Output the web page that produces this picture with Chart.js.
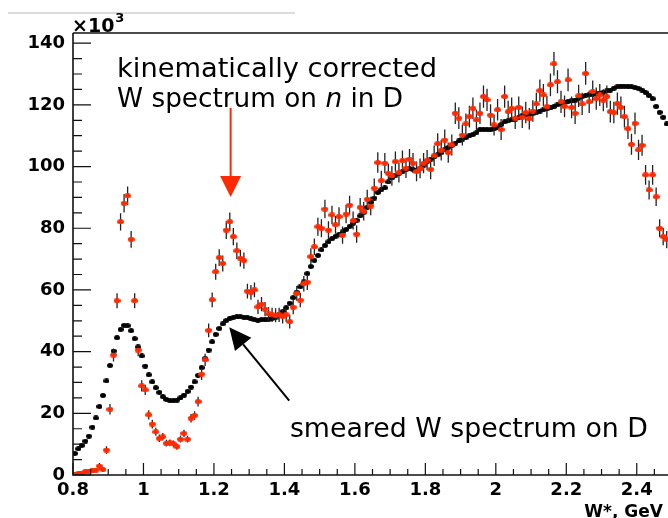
<!DOCTYPE html>
<html>
<head>
<meta charset="utf-8">
<script src="https://cdn.jsdelivr.net/npm/chart.js@4.4.1/dist/chart.umd.min.js"></script>
<style>
  html, body { margin: 0; padding: 0; background: #fff; overflow: hidden; }
  #wrap { width: 668px; height: 518px; overflow: hidden; }
  canvas { display: block; }
</style>
</head>
<body>
<div id="wrap"><canvas id="chart-box" width="680" height="518"></canvas></div>
<script>
// W* bins: 0.01 GeV wide, first bin centred at 0.805 GeV
const wStart = 0.805;
const wStep = 0.01;

// smeared W spectrum on D (x10^3 counts per bin)
const smeared = [
  7.0, 8.5, 9.6, 11.0, 12.6, 15.5, 18.5, 22.2, 25.8, 30.5,
  35.5, 40.2, 44.5, 47.2, 48.5, 48.4, 46.8, 44.2, 41.5, 38.6,
  35.3, 32.5, 30.2, 28.3, 26.8, 25.4, 24.5, 24.1, 24.1, 24.3,
  25.0, 25.9, 27.1, 28.5, 30.2, 32.3, 34.8, 37.8, 40.5, 43.2,
  45.6, 47.5, 49.0, 50.1, 50.8, 51.1, 51.3, 51.3, 51.2, 51.0,
  50.6, 50.3, 50.2, 50.4, 50.3, 50.4, 50.8, 51.2, 52.0, 53.0,
  54.2, 55.7, 57.5, 59.3, 61.0, 62.6, 65.3, 67.6, 69.6, 71.2,
  73.0, 74.4, 75.6, 76.6, 77.4, 78.0, 78.8, 79.6, 80.6, 81.6,
  82.6, 84.0, 85.2, 86.8, 88.4, 89.8, 91.6, 92.5, 93.1, 95.0,
  96.3, 97.2, 97.8, 98.3, 99.0, 99.4, 99.0, 98.7, 99.4, 100.5,
  101.6, 102.4, 103.1, 103.8, 104.5, 105.4, 106.2, 106.9, 107.6, 108.3,
  108.9, 109.4, 110.0, 110.4, 111.0, 112.0, 112.1, 112.0, 111.9, 112.2,
  112.6, 113.6, 114.5, 114.8, 115.1, 115.4, 115.9, 116.5, 116.8, 117.0,
  117.2, 117.6, 118.0, 118.4, 118.7, 119.0, 119.4, 120.0, 120.5, 120.8,
  121.1, 121.3, 121.5, 122.2, 122.7, 123.1, 123.3, 123.5, 123.7, 123.8,
  124.1, 124.5, 124.8, 125.4, 125.9, 126.1, 126.1, 126.0, 125.8, 125.6,
  125.3, 124.8, 124.0, 123.0, 122.0, 119.5, 117.6, 116.0, 113.8
];

// kinematically corrected W spectrum on n in D
const corrected = [
  0.3, 0.5, 0.6, 1.1, 1.2, 1.5, 1.6, 2.9, 1.8, 8.1,
  21.3, 38.9, 56.5, 82.1, 88.1, 90.5, 76.4, 56.5, 40.5, 28.9,
  27.6, 19.5, 16.5, 14.0, 11.9, 12.4, 10.3, 10.4, 10.1, 9.2,
  11.6, 13.5, 11.6, 18.4, 19.3, 23.8, 32.7, 37.3, 46.9, 56.8,
  65.9, 70.5, 68.6, 79.4, 82.1, 77.3, 72.7, 70.3, 69.5, 59.6,
  59.2, 60.0, 54.5, 55.4, 53.8, 52.2, 51.9, 51.8, 51.9, 51.4,
  51.9, 49.7, 54.4, 58.9, 56.7, 62.0, 62.5, 70.8, 74.0, 80.5,
  80.0, 86.2, 79.4, 84.3, 81.1, 83.8, 77.8, 84.6, 87.5, 82.5,
  78.1, 86.8, 85.5, 89.4, 87.2, 93.0, 101.3, 95.4, 101.1, 97.8,
  97.0, 101.6, 98.0, 101.9, 99.5, 102.4, 101.1, 98.4, 99.4, 101.1,
  102.1, 99.1, 103.5, 107.4, 105.3, 108.6, 104.5, 107.0, 117.3, 115.7,
  110.2, 113.8, 116.2, 118.9, 115.1, 117.3, 122.7, 121.6, 116.7, 113.5,
  118.4, 112.0, 122.7, 117.8, 118.9, 115.7, 119.2, 116.0, 117.5, 115.5,
  118.0, 120.3, 124.6, 123.2, 119.4, 126.5, 133.3, 127.5, 121.0, 119.5,
  128.1, 119.2, 117.3, 122.9, 120.3, 130.2, 121.0, 124.3, 122.0, 123.2,
  121.5, 122.7, 117.8, 117.5, 120.4, 119.2, 116.2, 112.3, 107.2, 114.0,
  105.4, 106.9, 97.3, 92.4, 97.3, 90.2, 80.0, 77.3, 76.3
];

// statistical errors of the corrected spectrum
const correctedErr = [
  0.4, 0.4, 0.5, 0.6, 0.6, 0.7, 0.7, 1.0, 0.8, 1.2,
  1.7, 2.1, 2.4, 2.8, 3.0, 3.0, 2.7, 2.4, 2.0, 1.8,
  1.7, 1.5, 1.4, 1.3, 1.2, 1.2, 1.1, 1.1, 1.1, 1.0,
  1.1, 1.2, 1.1, 1.4, 1.4, 1.6, 1.9, 2.0, 2.2, 2.4,
  2.6, 2.7, 2.6, 2.9, 3.0, 2.8, 2.7, 2.7, 2.6, 2.4,
  2.4, 2.4, 2.3, 2.3, 2.3, 2.3, 2.3, 2.3, 2.3, 2.3,
  2.3, 2.2, 2.3, 2.4, 2.3, 2.5, 2.5, 2.7, 2.7, 2.9,
  2.9, 3.0, 2.9, 3.0, 2.9, 3.0, 2.8, 3.0, 3.0, 2.9,
  2.8, 3.0, 3.0, 3.1, 3.0, 3.1, 3.3, 3.2, 3.3, 3.2,
  3.2, 3.3, 3.2, 3.3, 3.2, 3.3, 3.3, 3.2, 3.2, 3.3,
  3.3, 3.2, 3.3, 3.4, 3.3, 3.4, 3.3, 3.4, 3.5, 3.5,
  3.4, 3.4, 3.5, 3.5, 3.4, 3.5, 3.6, 3.6, 3.5, 3.4,
  3.5, 3.4, 3.6, 3.5, 3.5, 3.5, 3.5, 3.5, 3.5, 3.5,
  3.5, 3.6, 3.6, 3.6, 3.5, 3.7, 3.8, 3.7, 3.6, 3.5,
  3.7, 3.5, 3.5, 3.6, 3.6, 3.7, 3.6, 3.6, 3.6, 3.6,
  3.6, 3.6, 3.5, 3.5, 3.6, 3.5, 3.5, 3.4, 3.4, 3.5,
  3.3, 3.4, 3.2, 3.1, 3.2, 3.0, 2.9, 2.8, 2.8
];

const xTicks = [0.8, 1, 1.2, 1.4, 1.6, 1.8, 2, 2.2, 2.4];
const yTicks = [0, 20, 40, 60, 80, 100, 120, 140];

const RED = "#ff2a00";
const tickFont = { family: "DejaVu Sans", weight: "bold", size: 18 };
const noteFont = "DejaVu Sans";

function toPoints(values) {
  return values.map(function (v, i) {
    return { x: +(wStart + wStep * i).toFixed(3), y: v };
  });
}

// small filled ellipse used as marker
function dot(w, h, color) {
  var c = document.createElement("canvas");
  c.width = w;
  c.height = h;
  var g = c.getContext("2d");
  g.fillStyle = color;
  g.beginPath();
  g.ellipse(w / 2, h / 2, w / 2, h / 2, 0, 0, Math.PI * 2);
  g.fill();
  return c;
}

// text runs squeezed/stretched to a given width
function drawNote(ctx, parts, x, y, width, size) {
  var total = 0;
  parts.forEach(function (p) {
    ctx.font = (p.italic ? "italic " : "") + size + "px '" + noteFont + "'";
    total += ctx.measureText(p.t).width;
  });
  ctx.save();
  ctx.translate(x, y);
  ctx.scale(width / total, 1);
  ctx.fillStyle = "#000";
  ctx.textBaseline = "alphabetic";
  ctx.textAlign = "left";
  var cx = 0;
  parts.forEach(function (p) {
    ctx.font = (p.italic ? "italic " : "") + size + "px '" + noteFont + "'";
    ctx.fillText(p.t, cx, 0);
    cx += ctx.measureText(p.t).width;
  });
  ctx.restore();
}

function arrow(ctx, x0, y0, x1, y1, headLen, headHalf, color, lw) {
  var ang = Math.atan2(y1 - y0, x1 - x0);
  var bx = x1 - headLen * Math.cos(ang);
  var by = y1 - headLen * Math.sin(ang);
  ctx.strokeStyle = color;
  ctx.fillStyle = color;
  ctx.lineWidth = lw;
  ctx.beginPath();
  ctx.moveTo(x0, y0);
  ctx.lineTo(bx, by);
  ctx.stroke();
  ctx.beginPath();
  ctx.moveTo(x1, y1);
  ctx.lineTo(bx + headHalf * Math.sin(ang), by - headHalf * Math.cos(ang));
  ctx.lineTo(bx - headHalf * Math.sin(ang), by + headHalf * Math.cos(ang));
  ctx.closePath();
  ctx.fill();
}

// vertical error bars under the red markers
const errorBars = {
  id: "errorBars",
  beforeDatasetDraw(chart, args) {
    if (args.index !== 0) return;
    var ctx = chart.ctx;
    var xs = chart.scales.x;
    var ys = chart.scales.y;
    ctx.save();
    ctx.strokeStyle = "#222";
    ctx.lineWidth = 1.3;
    ctx.beginPath();
    args.meta.data.forEach(function (el, i) {
      var v = corrected[i];
      var e = correctedErr[i];
      var px = xs.getPixelForValue(wStart + wStep * i);
      ctx.moveTo(px, ys.getPixelForValue(Math.max(v - e, 0)));
      ctx.lineTo(px, ys.getPixelForValue(v + e));
    });
    ctx.stroke();
    ctx.restore();
  },
};

// frame, inside ticks, exponent, axis title and annotations
const decor = {
  id: "decor",
  afterDraw(chart) {
    var ctx = chart.ctx;
    var a = chart.chartArea;
    var xs = chart.scales.x;
    var ys = chart.scales.y;
    ctx.save();

    // thin grey rule at the very top
    ctx.strokeStyle = "#cfcfcf";
    ctx.lineWidth = 1.5;
    ctx.beginPath();
    ctx.moveTo(8, 13);
    ctx.lineTo(295, 13);
    ctx.stroke();

    ctx.strokeStyle = "#111";
    ctx.lineWidth = 1.6;
    ctx.beginPath();
    ctx.moveTo(a.left, a.top);
    ctx.lineTo(chart.width, a.top);
    ctx.moveTo(a.left, a.top);
    ctx.lineTo(a.left, a.bottom);
    ctx.lineTo(chart.width, a.bottom);
    ctx.stroke();

    ctx.lineWidth = 1.2;
    ctx.beginPath();
    for (var k = 0; k * 5 <= ys.max; k++) {
      var py = ys.getPixelForValue(k * 5);
      var len = k % 4 === 0 ? 18 : 9;
      ctx.moveTo(a.left, py);
      ctx.lineTo(a.left + len, py);
    }
    for (var j = 0; 0.8 + j * 0.05 <= xs.max + 1e-9; j++) {
      var px = xs.getPixelForValue(0.8 + j * 0.05);
      var l2 = j % 4 === 0 ? 12 : 6;
      ctx.moveTo(px, a.bottom);
      ctx.lineTo(px, a.bottom - l2);
    }
    ctx.stroke();

    // x10^3 exponent
    ctx.fillStyle = "#000";
    ctx.textBaseline = "alphabetic";
    ctx.textAlign = "left";
    ctx.font = "bold 19px 'DejaVu Sans'";
    ctx.fillText("\u00d710", a.left - 1, 32);
    var ew = ctx.measureText("\u00d710").width;
    ctx.font = "bold 13px 'DejaVu Sans'";
    ctx.fillText("3", a.left + ew, 22);

    // axis title
    ctx.font = "bold 17px 'DejaVu Sans'";
    ctx.textAlign = "right";
    ctx.fillText("W*, GeV", 663, 517);

    // annotations
    drawNote(ctx, [{ t: "kinematically corrected" }], xs.getPixelForValue(0.925), ys.getPixelForValue(129.1), 320, 27);
    drawNote(ctx, [{ t: "W spectrum on " }, { t: "n", italic: true }, { t: " in D" }],
      xs.getPixelForValue(0.925), ys.getPixelForValue(119.3), 286, 27);
    drawNote(ctx, [{ t: "smeared W spectrum on D" }], xs.getPixelForValue(1.4156), ys.getPixelForValue(12.3), 358, 27);

    var ax = xs.getPixelForValue(1.2474);
    arrow(ctx, ax, ys.getPixelForValue(119.0), ax, ys.getPixelForValue(90.1), 21, 10.5, RED, 2);
    arrow(ctx, xs.getPixelForValue(1.4136), ys.getPixelForValue(24.1),
      xs.getPixelForValue(1.2434), ys.getPixelForValue(47.9), 22, 10.5, "#000", 2);

    ctx.restore();
  },
};

var ctx = document.getElementById("chart-box").getContext("2d");
var chart = new Chart(ctx, {
  type: "scatter",
  data: {
    datasets: [
      {
        label: "kinematically corrected W spectrum on n in D",
        data: toPoints(corrected),
        pointStyle: dot(7, 5, RED),
        pointRadius: 3,
        order: 0,
      },
      {
        label: "smeared W spectrum on D",
        data: toPoints(smeared),
        pointStyle: dot(6, 5, "#000"),
        pointRadius: 3,
        order: 1,
      },
    ],
  },
  options: {
    responsive: false,
    animation: false,
    devicePixelRatio: 1,
    events: [],
    layout: { padding: { top: 33, right: 8, left: 0, bottom: 0 } },
    plugins: {
      legend: { display: false },
      tooltip: { enabled: false },
    },
    scales: {
      x: {
        type: "linear",
        min: 0.8,
        max: 2.5,
        afterBuildTicks: function (scale) {
          scale.ticks = xTicks.map(function (v) { return { value: v }; });
        },
        afterFit: function (scale) { scale.height = 43; },
        grid: { display: false, drawTicks: false },
        border: { display: false },
        ticks: {
          autoSkip: false,
          maxRotation: 0,
          padding: 5,
          color: "#000",
          font: tickFont,
          callback: function (v) { return String(v); },
        },
      },
      y: {
        type: "linear",
        min: 0,
        max: 143.3,
        afterBuildTicks: function (scale) {
          scale.ticks = yTicks.map(function (v) { return { value: v }; });
        },
        afterFit: function (scale) { scale.width = 73; },
        grid: { display: false, drawTicks: false },
        border: { display: false },
        ticks: {
          padding: 8,
          color: "#000",
          font: tickFont,
        },
      },
    },
  },
  plugins: [errorBars, decor],
});
</script>
</body>
</html>
